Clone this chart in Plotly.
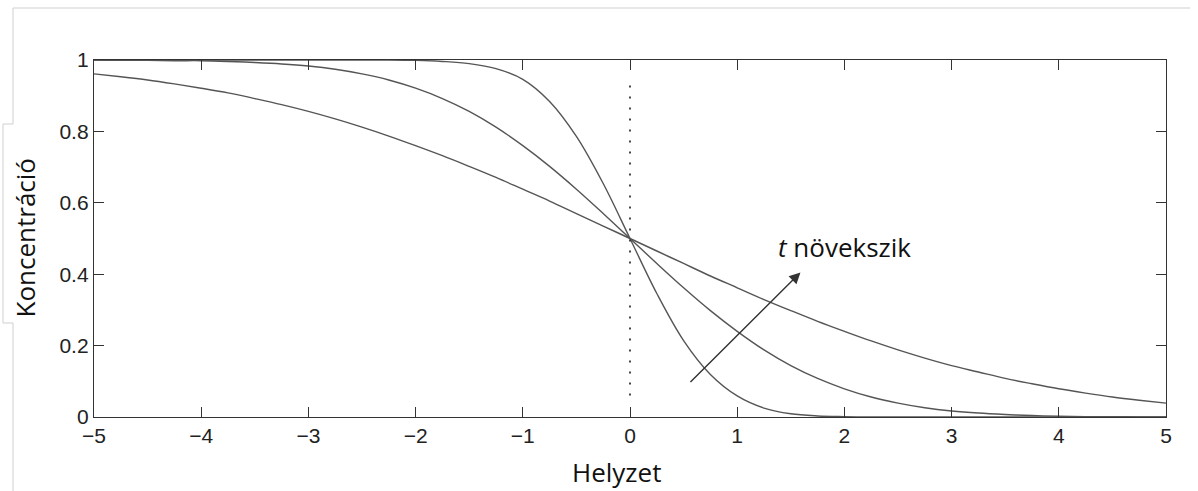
import plotly.graph_objects as go

# Position values (Helyzet)
x_pos = [-5, -4.75, -4.5, -4.25, -4, -3.75, -3.5, -3.25, -3, -2.75, -2.5, -2.25,
         -2, -1.75, -1.5, -1.25, -1, -0.75, -0.5, -0.25, 0, 0.25, 0.5, 0.75,
         1, 1.25, 1.5, 1.75, 2, 2.25, 2.5, 2.75, 3, 3.25, 3.5, 3.75, 4, 4.25,
         4.5, 4.75, 5]

# Concentration (three times, t increasing)
c_short = [1.0, 1.0, 1.0, 1.0, 1.0, 1.0, 1.0, 1.0, 1.0, 1.0, 1.0, 1.0,
           0.999, 0.996, 0.990, 0.976, 0.946, 0.884, 0.786, 0.654, 0.5, 0.346, 0.214, 0.119,
           0.059, 0.025, 0.009, 0.003, 0.001, 0.0, 0.0, 0.0, 0.0, 0.0, 0.0, 0.0, 0.0, 0.0,
           0.0, 0.0, 0.0]
c_mid = [1.0, 0.999, 0.999, 0.998, 0.998, 0.996, 0.993, 0.989, 0.983, 0.974, 0.961, 0.944,
         0.921, 0.892, 0.856, 0.812, 0.760, 0.702, 0.638, 0.570, 0.5, 0.430, 0.362, 0.298,
         0.240, 0.188, 0.144, 0.108, 0.079, 0.056, 0.039, 0.026, 0.017, 0.011, 0.007, 0.004, 0.002, 0.001,
         0.001, 0.0, 0.0]
c_long = [0.961, 0.953, 0.944, 0.933, 0.921, 0.908, 0.892, 0.875, 0.856, 0.835, 0.812, 0.787,
          0.760, 0.732, 0.702, 0.671, 0.638, 0.605, 0.570, 0.535, 0.5, 0.465, 0.430, 0.395,
          0.362, 0.329, 0.298, 0.268, 0.240, 0.213, 0.188, 0.165, 0.144, 0.126, 0.108, 0.093, 0.079, 0.067,
          0.056, 0.047, 0.039]

x_ticks = [-5, -4, -3, -2, -1, 0, 1, 2, 3, 4, 5]
y_ticks = [0, 0.2, 0.4, 0.6, 0.8, 1]
y_tick_labels = ["0", "0.2", "0.4", "0.6", "0.8", "1"]

dotted_x = [0, 0]
dotted_y = [0.06, 0.945]

arrow_from = (0.55, 0.094)
arrow_to = (1.59, 0.405)

curve_color = "#555555"
axis_color = "#333333"

fig = go.Figure()
for c in (c_short, c_mid, c_long):
    fig.add_trace(go.Scatter(x=x_pos, y=c, mode="lines",
                             line=dict(color=curve_color, width=1.4, shape="spline", smoothing=1.0),
                             hoverinfo="skip", showlegend=False))

fig.add_trace(go.Scatter(x=dotted_x, y=dotted_y, mode="lines",
                         line=dict(color="#333333", width=1.8, dash="2px,9px"),
                         hoverinfo="skip", showlegend=False))

fig.add_annotation(x=arrow_to[0], y=arrow_to[1], ax=arrow_from[0], ay=arrow_from[1],
                   xref="x", yref="y", axref="x", ayref="y", text="",
                   showarrow=True, arrowhead=2, arrowsize=1.6, arrowwidth=1.4, arrowcolor="#333333")

fig.add_annotation(x=2.0, y=0.476, xref="x", yref="y", text="<i>t</i> növekszik", showarrow=False,
                   xanchor="center", yanchor="middle",
                   font=dict(family="Open Sans", size=26, color="#111111"))

fig.add_annotation(x=0.5 - 14 / 1072, y=-0.155, xref="paper", yref="paper", text="Helyzet", showarrow=False,
                   xanchor="center", yanchor="middle",
                   font=dict(family="Open Sans", size=26, color="#111111"))

fig.add_annotation(x=-(94 - 24) / 1072, y=0.5 + 1 / 357, xref="paper", yref="paper", text="Koncentráció",
                   showarrow=False, textangle=-90, xanchor="center", yanchor="middle",
                   font=dict(family="Open Sans", size=26, color="#111111"))

# screenshot frame lines around the label box (decorative)
def px_x(p):
    return (p - 94) / 1072

def px_y(p):
    return (417 - p) / 357

frame = [
    (13, 8, 1190, 8),
    (13, 8, 13, 124),
    (13, 124, 3, 124),
    (3, 124, 3, 323),
    (3, 323, 13, 323),
    (13, 323, 13, 491),
]
for x0, y0, x1, y1 in frame:
    fig.add_shape(type="line", xref="paper", yref="paper",
                  x0=px_x(x0), y0=px_y(y0), x1=px_x(x1), y1=px_y(y1),
                  line=dict(color="#cfcfcf", width=1), layer="below")

fig.update_xaxes(range=[-5, 5], tickvals=x_ticks, ticks="inside", ticklen=10, tickwidth=1.2,
                 tickcolor=axis_color, showline=True, linecolor=axis_color, linewidth=1.3,
                 mirror="ticks", showgrid=False, zeroline=False,
                 tickfont=dict(family="Liberation Sans", size=21, color="#222222"))
fig.update_yaxes(range=[0, 1], tickvals=y_ticks, ticktext=y_tick_labels, ticks="inside", ticklen=10, tickwidth=1.2,
                 tickcolor=axis_color, showline=True, linecolor=axis_color, linewidth=1.3,
                 mirror="ticks", showgrid=False, zeroline=False,
                 tickfont=dict(family="Liberation Sans", size=21, color="#222222"))

fig.update_layout(width=1198, height=491, margin=dict(l=94, r=32, t=60, b=74),
                  paper_bgcolor="white", plot_bgcolor="white")

fig.write_html("out.html")
